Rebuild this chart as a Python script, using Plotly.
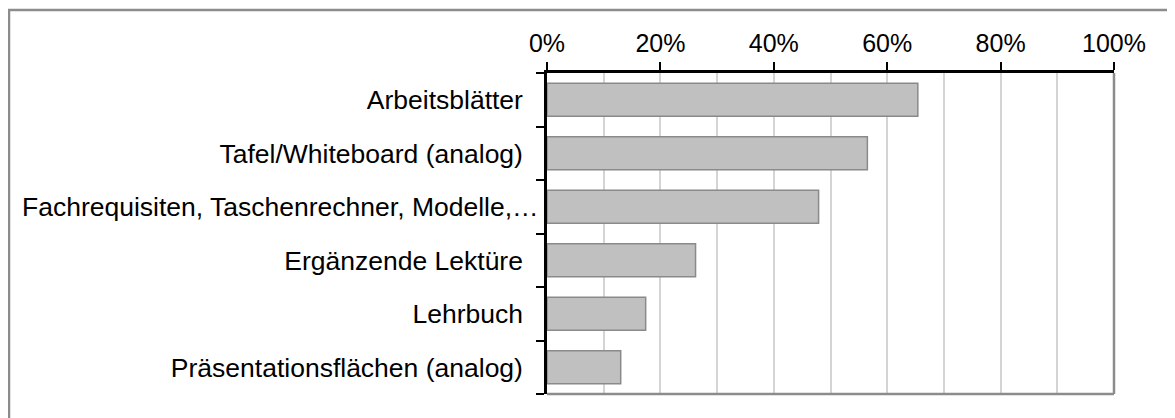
import plotly.graph_objects as go

categories = [
    "Arbeitsblätter",
    "Tafel/Whiteboard (analog)",
    "Fachrequisiten, Taschenrechner, Modelle,…",
    "Ergänzende Lektüre",
    "Lehrbuch",
    "Präsentationsflächen (analog)",
]
values = [65.4, 56.5, 47.9, 26.2, 17.4, 13.0]
x_tick_vals = [0, 20, 40, 60, 80, 100]
x_tick_text = ["0%", "20%", "40%", "60%", "80%", "100%"]
long_label = categories[2]  # drawn as an annotation (overhangs like the original)

# page body adds an 8px offset, so the figure is sized/positioned to compensate
OFF = 8
W, H = 1175 - OFF, 418 - OFF
L, R, T, B = 547 - OFF, 1114 - OFF, 73 - OFF, 394 - OFF

fam = "Liberation Sans, Arial, sans-serif"
yfont = dict(family=fam, size=26.5, color="black")

fig = go.Figure(go.Bar(
    x=values, y=categories, orientation="h",
    marker=dict(color="#c0c0c0", line=dict(color="#8a8a8a", width=1.5)),
    width=0.62,
))

fig.update_layout(
    width=W, height=H,
    margin=dict(l=L, r=W - R, t=T, b=H - B, pad=0, autoexpand=False),
    paper_bgcolor="white", plot_bgcolor="white",
    font=dict(family=fam, size=25, color="black"), showlegend=False,
    xaxis=dict(
        side="top", range=[0, 100], tickvals=x_tick_vals, ticktext=x_tick_text,
        tickfont=dict(family=fam, size=25, color="black"),
        showgrid=True, gridcolor="#d4d4d4", gridwidth=1.5,
        minor=dict(dtick=10, tick0=0, showgrid=True, gridcolor="#d4d4d4", gridwidth=1.5, ticks=""),
        ticks="outside", ticklen=8, tickwidth=2, tickcolor="black",
        showline=True, linecolor="black", linewidth=2.5,
        zeroline=False, fixedrange=True, automargin=False,
    ),
    yaxis=dict(
        categoryorder="array", categoryarray=categories, autorange="reversed",
        tickvals=categories,
        ticktext=["" if c == long_label else c for c in categories],
        tickfont=yfont,
        tickson="boundaries", ticks="outside", ticklen=8, tickwidth=2, tickcolor="black",
        showline=True, linecolor="black", linewidth=2.5, showgrid=False,
        ticklabelstandoff=16, fixedrange=True, automargin=False,
    ),
    annotations=[
        dict(text=long_label, xref="paper", yref="y", x=(541 - 547) / (R - L), y=long_label,
             xanchor="right", yanchor="middle", showarrow=False, font=yfont),
    ],
    shapes=[
        dict(type="line", xref="x domain", yref="y domain", x0=0, x1=1, y0=0, y1=0,
             line=dict(color="#8c8c8c", width=2.5), layer="above"),
        dict(type="line", xref="x domain", yref="y domain", x0=1, x1=1, y0=0, y1=1,
             line=dict(color="#8c8c8c", width=2.5), layer="below"),
        dict(type="rect", xref="paper", yref="paper",
             x0=(1 - L) / (R - L), x1=(1200 - L) / (R - L),
             y0=(B - 440) / (B - T), y1=(B - 2) / (B - T),
             line=dict(color="#8c8c8c", width=2.5), fillcolor="rgba(0,0,0,0)", layer="below"),
    ],
)

fig.write_html("out.html")
